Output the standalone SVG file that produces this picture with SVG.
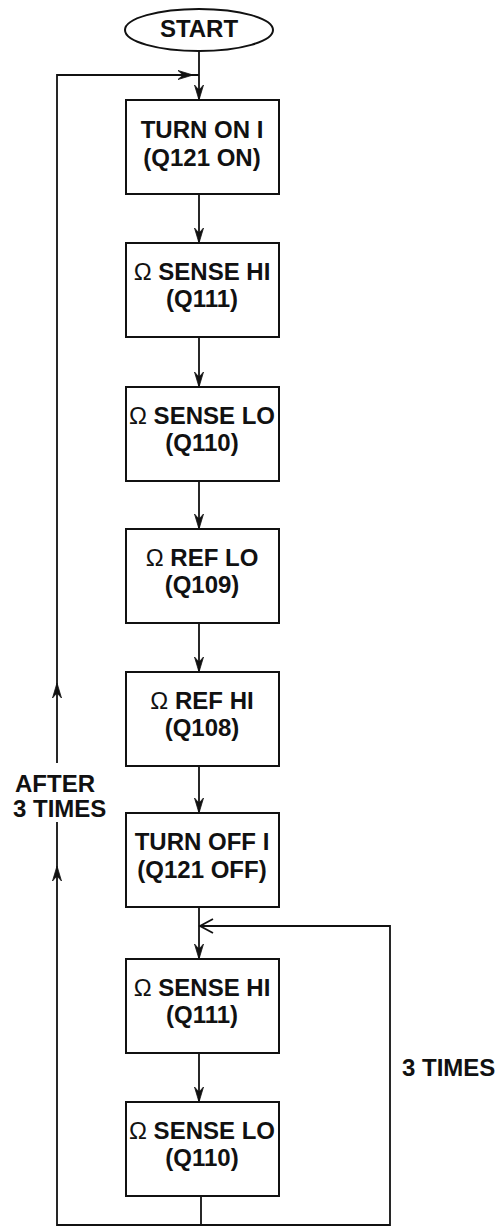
<svg xmlns="http://www.w3.org/2000/svg" width="499" height="1227" viewBox="0 0 499 1227">
<style>
.box{fill:#fff;stroke:#111;stroke-width:2}
.ln{fill:none;stroke:#111;stroke-width:1.8}
.t{font-family:"Liberation Sans",Arial,sans-serif;font-weight:bold;font-size:24px;fill:#111;text-anchor:middle}
.lbl{font-family:"Liberation Sans",Arial,sans-serif;font-weight:bold;font-size:24px;fill:#111}
.om{font-weight:normal}
.ah{fill:#111;stroke:#111;stroke-width:0.8;stroke-linejoin:miter}
</style>
<defs>
<path id="down" d="M0,0 L-4.5,-15 L0,-10 L4.5,-15 Z"/>
</defs>
<rect width="499" height="1227" fill="#fff"/>
<g id="connectors">
<line class="ln" x1="199" y1="51" x2="199" y2="100"/>
<polyline class="ln" points="57,763 57,75 199,75"/>
<path class="ah" d="M193,75 L178,70.5 L183,75 L178,79.5 Z"/>
<line class="ln" x1="199" y1="194" x2="199" y2="243"/>
<line class="ln" x1="199" y1="337" x2="199" y2="387"/>
<line class="ln" x1="199" y1="481" x2="199" y2="529"/>
<line class="ln" x1="199" y1="623" x2="199" y2="672"/>
<line class="ln" x1="199" y1="766" x2="199" y2="813"/>
<line class="ln" x1="199" y1="907" x2="199" y2="959"/>
<line class="ln" x1="199" y1="1053" x2="199" y2="1102"/>
<line class="ln" x1="201" y1="1196" x2="201" y2="1225"/>
<polyline class="ln" points="57,822 57,1225 390,1225 390,926 199,926"/>
<polyline class="ln" points="213,919 200,926 213,933"/>
<use href="#down" class="ah" x="199" y="100"/>
<use href="#down" class="ah" x="199" y="243"/>
<use href="#down" class="ah" x="199" y="387"/>
<use href="#down" class="ah" x="199" y="529"/>
<use href="#down" class="ah" x="199" y="672"/>
<use href="#down" class="ah" x="199" y="813"/>
<use href="#down" class="ah" x="199" y="959"/>
<use href="#down" class="ah" x="199" y="1102"/>
<use href="#down" class="ah" x="57" y="683" transform="rotate(180 57 683)"/>
<use href="#down" class="ah" x="57" y="866" transform="rotate(180 57 866)"/>
<text class="lbl" x="15" y="792">AFTER</text>
<text class="lbl" x="13" y="817">3 TIMES</text>
<text class="lbl" x="402" y="1076">3 TIMES</text>
</g>
<g id="start">
<ellipse cx="199" cy="30" rx="74" ry="21" fill="#fff" stroke="#111" stroke-width="2"/>
<text class="t" x="199" y="37">START</text>
</g>
<g id="n1">
<rect class="box" x="126" y="100" width="153" height="94"/>
<text class="t" x="202" y="138">TURN ON I</text>
<text class="t" x="202" y="166">(Q121 ON)</text>
</g>
<g id="n2">
<rect class="box" x="126" y="243" width="153" height="94"/>
<text class="t" x="202" y="280"><tspan class="om">Ω</tspan> SENSE HI</text>
<text class="t" x="202" y="307">(Q111)</text>
</g>
<g id="n3">
<rect class="box" x="126" y="387" width="153" height="94"/>
<text class="t" x="202" y="424"><tspan class="om">Ω</tspan> SENSE LO</text>
<text class="t" x="202" y="451">(Q110)</text>
</g>
<g id="n4">
<rect class="box" x="126" y="529" width="153" height="94"/>
<text class="t" x="202" y="566"><tspan class="om">Ω</tspan> REF LO</text>
<text class="t" x="202" y="593">(Q109)</text>
</g>
<g id="n5">
<rect class="box" x="126" y="672" width="153" height="94"/>
<text class="t" x="202" y="709"><tspan class="om">Ω</tspan> REF HI</text>
<text class="t" x="202" y="736">(Q108)</text>
</g>
<g id="n6">
<rect class="box" x="126" y="813" width="153" height="94"/>
<text class="t" x="202" y="850">TURN OFF I</text>
<text class="t" x="202" y="878">(Q121 OFF)</text>
</g>
<g id="n7">
<rect class="box" x="126" y="959" width="153" height="94"/>
<text class="t" x="202" y="996"><tspan class="om">Ω</tspan> SENSE HI</text>
<text class="t" x="202" y="1023">(Q111)</text>
</g>
<g id="n8">
<rect class="box" x="126" y="1102" width="153" height="94"/>
<text class="t" x="202" y="1139"><tspan class="om">Ω</tspan> SENSE LO</text>
<text class="t" x="202" y="1166">(Q110)</text>
</g>
</svg>
